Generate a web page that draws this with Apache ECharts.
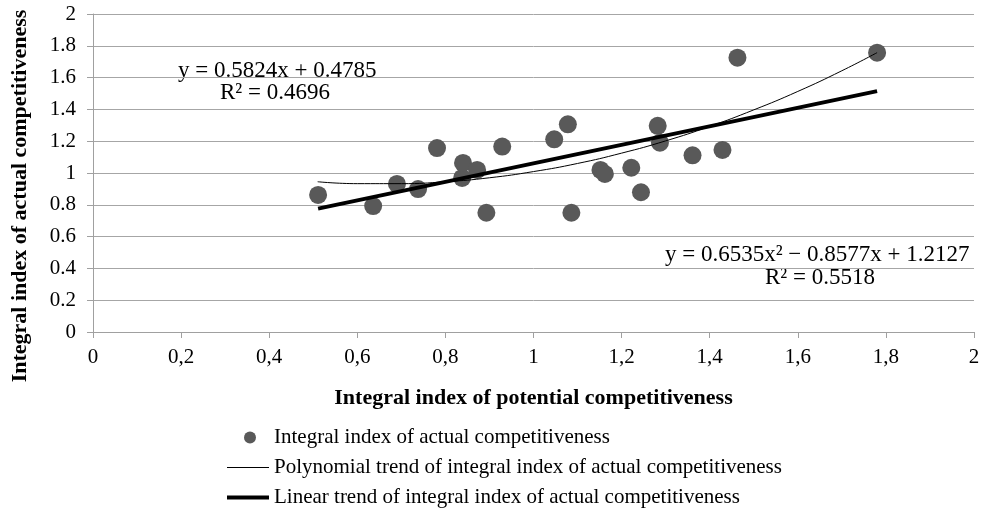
<!DOCTYPE html>
<html>
<head>
<meta charset="utf-8">
<script src="https://cdn.jsdelivr.net/npm/echarts@6/dist/echarts.min.js"></script>
<style>
  * { margin: 0; padding: 0; }
  html, body { background: #fff; }
</style>
</head>
<body>
<div id="main" style="width: 982px; height: 511px;"></div>
<script>
  // points: [potential, actual]
  var pointsX = [0.511, 0.636, 0.690, 0.738, 0.781, 0.838, 0.840, 0.872, 0.893, 0.929, 1.047, 1.078,
                 1.086, 1.152, 1.162, 1.222, 1.244, 1.282, 1.287, 1.361, 1.429, 1.463, 1.780]
  var pointsY = [0.862, 0.792, 0.931, 0.899, 1.157, 0.969, 1.063, 1.019, 0.750, 1.166, 1.212, 1.306,
                 0.750, 1.019, 0.994, 1.033, 0.879, 1.297, 1.191, 1.111, 1.145, 1.725, 1.757]

  // polynomial trend
  var polyX = [0.51, 0.6, 0.7, 0.8, 0.9, 1.0, 1.1, 1.2, 1.3, 1.4, 1.5, 1.6, 1.7, 1.78]
  var polyY = [0.945, 0.933, 0.933, 0.945, 0.970, 1.009, 1.060, 1.125, 1.202, 1.293, 1.397, 1.513, 1.643, 1.757]

  // linear trend end points
  var linX = [0.511, 1.78]
  var linY = [0.776, 1.515]

  var names = [
    'Integral index of actual competitiveness',
    'Polynomial trend of integral index of actual competitiveness',
    'Linear trend of integral index of actual competitiveness'
  ]
  var yTitle = 'Integral index of actual competitiveness'
  var eqLinear = ['y = 0.5824x + 0.4785', 'R² = 0.4696']
  var eqPoly = ['y = 0.6535x² − 0.8577x + 1.2127', 'R² = 0.5518']

  function pairs(xs, ys) {
    return xs.map(function (x, i) { return [x, ys[i]] })
  }

  var serif = '"Liberation Serif", "Times New Roman", serif'

  function oneLegend(name, left, top, icon, w, h, padLeft) {
    return {
      orient: 'vertical', left: left, top: top, padding: 0,
      itemWidth: w, itemHeight: h,
      icon: icon,
      textStyle: { fontFamily: serif, fontSize: 21, color: '#000', padding: [0, 0, 0, padLeft] },
      data: [name]
    }
  }

  var chart = echarts.init(document.getElementById('main'))
  chart.setOption({
    animation: false,
    textStyle: { fontFamily: serif, color: '#000' },
    grid: { left: 93, right: 8, top: 14, bottom: 179, outerBoundsMode: 'none', containLabel: false },
    xAxis: {
      type: 'value', min: 0, max: 2, interval: 0.2,
      name: 'Integral index of potential competitiveness',
      nameLocation: 'middle', nameGap: 55,
      nameTextStyle: { fontFamily: serif, fontSize: 22, fontWeight: 'bold', color: '#000' },
      axisLine: { show: true, lineStyle: { color: '#a0a0a0' } },
      axisTick: { show: true, length: 6, lineStyle: { color: '#a0a0a0' } },
      splitLine: { show: false },
      axisLabel: {
        fontFamily: serif, fontSize: 21, color: '#000', margin: 15,
        formatter: function (v) { return String(Math.round(v * 10) / 10).replace('.', ',') }
      }
    },
    yAxis: {
      type: 'value', min: 0, max: 2, interval: 0.2,
      axisLine: { show: true, lineStyle: { color: '#a0a0a0' } },
      axisTick: { show: true, length: 6, lineStyle: { color: '#a0a0a0' } },
      splitLine: { show: true, lineStyle: { color: '#a6a6a6', width: 1 } },
      axisLabel: {
        fontFamily: serif, fontSize: 21, color: '#000', margin: 17,
        formatter: function (v) { return String(Math.round(v * 10) / 10) }
      }
    },
    legend: [
      oneLegend(names[0], 244, 427, 'circle', 12, 12, 13),
      oneLegend(names[1], 227, 457, 'rect', 42, 1, 0),
      oneLegend(names[2], 227, 487, 'rect', 42, 4, 0)
    ],
    graphic: [
      {
        type: 'text', x: 20, y: 196, rotation: Math.PI / 2,
        style: { text: yTitle, font: 'bold 22px ' + serif, fill: '#000', align: 'center', verticalAlign: 'middle' }
      },
      { type: 'text', left: 178, top: 59, style: { text: eqLinear[0], font: '23px ' + serif, fill: '#000' } },
      { type: 'text', left: 220, top: 81, style: { text: eqLinear[1], font: '23px ' + serif, fill: '#000' } },
      { type: 'text', left: 665, top: 243, style: { text: eqPoly[0], font: '23px ' + serif, fill: '#000' } },
      { type: 'text', left: 765, top: 266, style: { text: eqPoly[1], font: '23px ' + serif, fill: '#000' } }
    ],
    series: [
      {
        name: names[0], type: 'scatter',
        symbol: 'circle', symbolSize: 18,
        itemStyle: { color: '#595959', opacity: 1 },
        data: pairs(pointsX, pointsY)
      },
      {
        name: names[1], type: 'line', smooth: true,
        showSymbol: false, symbol: 'none',
        lineStyle: { color: '#000', width: 1 },
        itemStyle: { color: '#000' },
        data: pairs(polyX, polyY)
      },
      {
        name: names[2], type: 'line',
        showSymbol: false, symbol: 'none',
        lineStyle: { color: '#000', width: 4 },
        itemStyle: { color: '#000' },
        data: pairs(linX, linY)
      }
    ]
  })
</script>
</body>
</html>
